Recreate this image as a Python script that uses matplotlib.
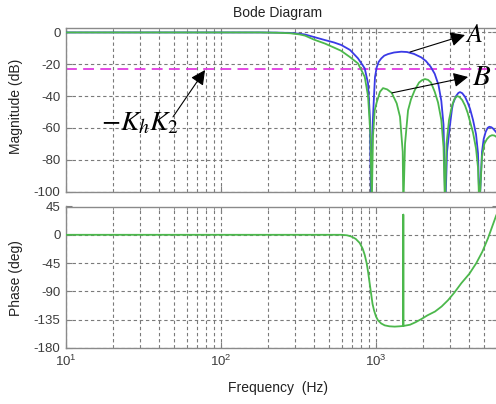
import matplotlib
matplotlib.use("Agg")
import matplotlib.pyplot as plt
from matplotlib.ticker import LogLocator, NullFormatter

plt.rcParams['font.family'] = ['Liberation Sans', 'DejaVu Sans']
plt.rcParams['axes.unicode_minus'] = False
plt.rcParams['mathtext.fontset'] = 'stix'

# ---------------- data ----------------
# Curve A (blue) magnitude
freq_a = [10, 178.5, 230, 278.7, 320, 348.4, 402.2, 468.8, 535.8, 597.3,
          679.7, 765.4, 845.7, 888.2, 915.0, 928.4,
          949.2, 970.7, 985, 1010, 1040, 1082, 1130, 1195, 1307, 1456,
          1585, 1759, 1961, 2100, 2250, 2392, 2530, 2638, 2726, 2800,
          2872, 2989, 3093, 3139, 3282, 3400, 3484, 3600, 3753, 3900,
          4042, 4225, 4418, 4550, 4652,
          4829, 4950, 5100, 5250, 5383, 5550, 5700, 5947, 6200]
mag_a = [0, 0, -0.1, -0.3, -0.8, -1.3, -3, -4.8, -6.3, -7.9,
         -11, -16.3, -22.6, -32, -55, -110,
         -60, -40, -28, -22, -18.5, -16.3, -14.6, -13.6, -12.6, -12.1,
         -12.3, -13.5, -15.7, -18, -21.5, -26, -33, -43, -58, -110,
         -75, -59.4, -48, -44.7, -40, -38, -37.5, -38.2, -40.5, -44,
         -48, -55, -64, -76, -110,
         -75, -67, -62.5, -60, -59.3, -59.6, -60.5, -62.6, -65]

# Curve B (green) magnitude
freq_b = [10, 178.5, 230, 278.7, 320, 348.4, 398.1, 468.8, 535.8, 594.7,
          679.7, 765.4, 845.7, 888.2, 921.5, 938.1,
          956.3, 981, 1010, 1061, 1110, 1180, 1263, 1360, 1428, 1487, 1500.3,
          1539, 1609, 1682, 1777, 1895, 1981, 2071, 2166, 2263, 2392,
          2512, 2638, 2726, 2787.6,
          2850, 2958, 3093, 3200, 3332, 3450, 3600, 3753, 3900, 4042,
          4225, 4418, 4550, 4639,
          4829, 5000, 5200, 5400, 5600, 5800, 5947, 6200]
mag_b = [0, 0, -0.2, -0.5, -1.2, -2, -4.5, -7, -9.5, -11.5,
         -15.5, -19.5, -27.9, -40, -65, -110,
         -65, -49, -44, -37.3, -35, -35.8, -38, -44.6, -53, -75, -110,
         -70, -49, -42, -36.3, -31.5, -30, -29.3, -29.8, -31.5, -37.3,
         -44, -55, -72, -110,
         -70, -55, -46, -42, -40, -40.5, -42.5, -46, -50.5, -56,
         -63, -73, -85, -110,
         -78, -70, -67, -65.3, -64.6, -64.8, -65.5, -67]

# Phase (green)
freq_p = [10, 597.3, 650, 692.6, 740, 785, 820, 845.7, 870, 888.2,
          910, 932.7, 950, 970.7, 1000, 1030, 1080, 1138, 1220, 1320,
          1420, 1500.3, 1500.3, 1500.3, 1657, 1800, 1961, 2150, 2403, 2650,
          2914, 3200, 3551, 4000, 4437, 4850, 5281, 5947, 6200]
phase_p = [0, 0, -0.8, -2.7, -6.5, -13, -22, -32, -45, -58.5,
           -77, -96, -110, -120, -130, -136, -141, -144, -145.5, -146,
           -145.5, -145, 32, -145, -143, -139, -134, -128, -122, -114,
           -104, -92, -77, -62, -45, -27, -5.3, 30, 40]

kh_k2_db = -23

mag_ticks = [0, -20, -40, -60, -80, -100]
phase_ticks = [45, 0, -45, -90, -135, -180]

# ---------------- figure ----------------
W, H = 496, 404
fig = plt.figure(figsize=(W / 100, H / 100), dpi=100)
left = 66 / W
width = 432 / W
ax1 = fig.add_axes([left, (H - 191.5) / H, width, 163.5 / H])
ax2 = fig.add_axes([left, (H - 348) / H, width, 141.5 / H])

blue = '#3a3ae6'
green = '#4cb84c'
gridc = '#7a7a7a'
textc = '#3c3c3c'

ax1.semilogx(freq_a, mag_a, color=blue, lw=1.3, zorder=3)
ax1.semilogx(freq_b, mag_b, color=green, lw=1.3, zorder=4)
ax1.axhline(kh_k2_db, color='#e03ce0', lw=1.3, ls=(0, (6, 3.5)), zorder=2)

ax2.semilogx(freq_p, phase_p, color=green, lw=1.3, zorder=3)

xmax = 10 ** 3.787
for ax in (ax1, ax2):
    ax.set_xscale('log')
    ax.set_xlim(10, xmax)
    ax.xaxis.set_major_locator(LogLocator(base=10, numticks=10))
    ax.xaxis.set_minor_locator(LogLocator(base=10, subs=range(2, 10), numticks=20))
    ax.xaxis.set_minor_formatter(NullFormatter())
    ax.grid(True, which='major', axis='both', color=gridc, ls=(0, (3, 2.5)), lw=0.8)
    ax.grid(True, which='minor', axis='x', color=gridc, ls=(0, (3, 2.5)), lw=0.8)
    ax.tick_params(which='both', direction='in', top=True, right=True,
                   colors='#808080', labelcolor=textc, labelsize=9.5, pad=4)
    ax.tick_params(which='major', length=4)
    ax.tick_params(which='minor', length=2)
    for s in ax.spines.values():
        s.set_color('#8a8a8a')
        s.set_linewidth(1.0)
    ax.set_axisbelow(True)

ax1.set_ylim(-100, 2.8)
ax1.set_yticks(mag_ticks)
ax1.tick_params(labelbottom=False)
ax2.set_ylim(-180, 45)
ax2.set_yticks(phase_ticks)

# labels
fig.text(278 / W, 1 - 13 / H, 'Bode Diagram', ha='center', va='center', fontsize=10, color='#222222')
fig.text(278 / W, 1 - 388 / H, 'Frequency  (Hz)', ha='center', va='center', fontsize=10, color='#222222')
fig.text(16 / W, 1 - 106 / H, 'Magnitude (dB)', ha='center', va='center', rotation=90, fontsize=10, color='#222222')
fig.text(16 / W, 1 - 278 / H, 'Phase (deg)', ha='center', va='center', rotation=90, fontsize=10, color='#222222')

# annotations
arrow = dict(arrowstyle='-|>', mutation_scale=22, lw=0.8, color='black', shrinkA=0, shrinkB=0)
ax1.annotate('', xy=(3750, -1.6), xytext=(1657, -12.3), arrowprops=arrow, zorder=6)
ax1.text(3750, -1.6, r'$A$', fontsize=19, ha='left', va='center', zorder=6)
ax1.annotate('', xy=(3926, -28), xytext=(1268, -38), arrowprops=arrow, zorder=6)
ax1.text(4141, -28, r'$B$', fontsize=21, ha='left', va='center', zorder=6)
ax1.annotate('', xy=(78.9, -23.6), xytext=(49, -53.1), arrowprops=arrow, zorder=6)
ax1.text(30, -57, r'$-K_{h}K_{2}$', fontsize=20, ha='center', va='center', zorder=6)

fig.savefig('out.png', dpi=100)
